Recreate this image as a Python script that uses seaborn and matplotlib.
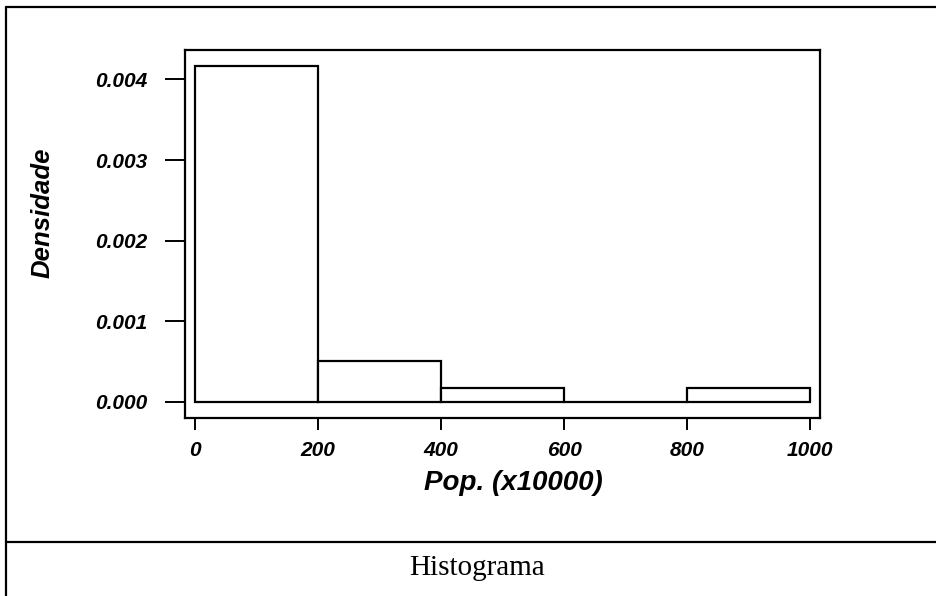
import numpy as np
import pandas as pd
import seaborn as sns
import matplotlib.pyplot as plt
from matplotlib.lines import Line2D

# histogram data (counts per class of 200 units, n = 30)
bin_edges = [0, 200, 400, 600, 800, 1000]
bin_mids = [100, 300, 500, 700, 900]
counts = [25, 3, 1, 0, 1]
x_ticks = [0, 200, 400, 600, 800, 1000]
y_ticks = [0.000, 0.001, 0.002, 0.003, 0.004]

df = pd.DataFrame({'pop': bin_mids, 'n': counts})

sns.set_style('white')
plt.rcParams['font.family'] = ['Liberation Sans', 'DejaVu Sans']
plt.rcParams['text.color'] = 'black'
plt.rcParams['axes.labelcolor'] = 'black'
plt.rcParams['xtick.color'] = 'black'
plt.rcParams['ytick.color'] = 'black'

fig = plt.figure(figsize=(9.36, 5.96), dpi=100)
ax = fig.add_axes([185 / 936, (596 - 418.3) / 596, 635 / 936, 368.3 / 596])

sns.histplot(data=df, x='pop', weights='n', bins=bin_edges, stat='density',
             color='white', edgecolor='black', linewidth=1.6, alpha=1, ax=ax)

ax.set_xlim(-16.2, 1016.2)
ax.set_ylim(-0.000205, 0.004365)

for s in ax.spines.values():
    s.set_visible(True)
    s.set_color('black')
    s.set_linewidth(1.6)

ax.set_xticks(x_ticks)
ax.set_xticklabels([str(v) for v in x_ticks])
ax.set_yticks(y_ticks)
ax.set_yticklabels([f'{v:.3f}' for v in y_ticks])

ax.tick_params(axis='x', direction='out', length=8.6, width=1.4, color='black', pad=8,
               bottom=True, labelsize=15, labelcolor='black')
ax.tick_params(axis='y', direction='out', length=14.4, width=1.4, color='black', pad=13,
               left=True, labelsize=15, labelcolor='black')
for lab in ax.get_xticklabels() + ax.get_yticklabels():
    lab.set_fontweight('bold')
    lab.set_fontstyle('italic')

ax.set_xlabel('Pop. (x10000)', fontsize=20, fontweight='bold', fontstyle='italic', color='black')
ax.xaxis.set_label_coords((513 - 185) / 635, -0.14)
ax.set_ylabel('Densidade', fontsize=18.5, fontweight='bold', fontstyle='italic', color='black')
ax.yaxis.set_label_coords(-0.205, 0.557)

# outer frame and caption panel
fig.add_artist(Line2D([6 / 936, 6 / 936], [0, 1 - 7 / 596], transform=fig.transFigure,
                      color='black', lw=1.6))
fig.add_artist(Line2D([6 / 936, 1], [1 - 7 / 596, 1 - 7 / 596], transform=fig.transFigure,
                      color='black', lw=1.6))
fig.add_artist(Line2D([6 / 936, 1], [1 - 542 / 596, 1 - 542 / 596], transform=fig.transFigure,
                      color='black', lw=1.6))
fig.text(477 / 936, 1 - 568 / 596, 'Histograma', ha='center', va='center',
         fontsize=21, color='black', family=['Liberation Serif', 'DejaVu Serif'])

fig.savefig('out.png', dpi=100)
